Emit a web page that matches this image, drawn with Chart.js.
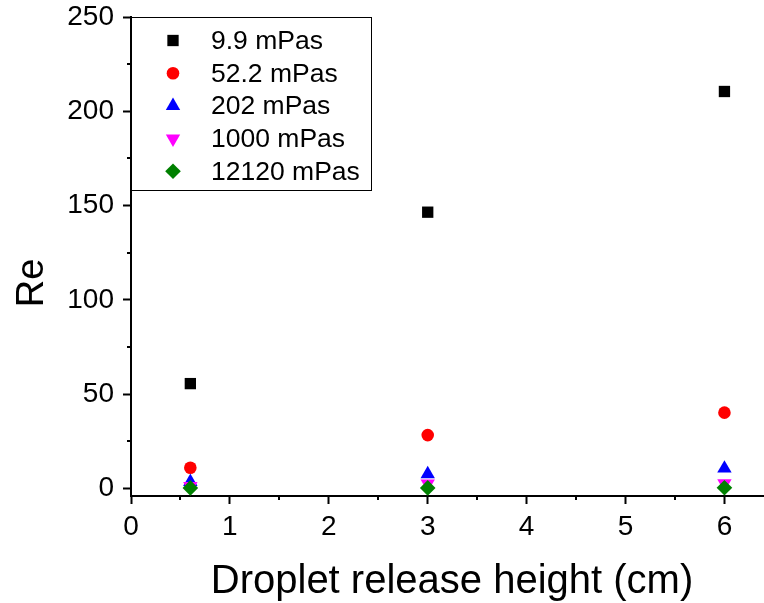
<!DOCTYPE html>
<html>
<script src="https://cdn.jsdelivr.net/npm/chart.js"></script>
<style type="text/css">
  body { margin: 0; background: #fff; }
</style>
<body>
  <canvas id="myChart" width="764" height="603"></canvas>

  <script>
    // release heights (cm)
    const heights = [0.6, 3, 6];
    const labels = ['9.9 mPas', '52.2 mPas', '202 mPas', '1000 mPas', '12120 mPas'];
    const re99 = [55.6, 146.5, 210.5];
    const re522 = [11.0, 28.3, 40.2];
    const re202 = [3.5, 7.6, 10.6];
    const re1000 = [1.2, 2.6, 2.7];
    const re12120 = [0.3, 0.3, 0.35];

    const xTicks = [0, 1, 2, 3, 4, 5, 6];
    const xMinor = [0.5, 1.5, 2.5, 3.5, 4.5, 5.5];
    const yTicks = [0, 50, 100, 150, 200, 250];
    const yMinor = [25, 75, 125, 175, 225];

    const FONT = '"Liberation Sans", Arial, sans-serif';

    const toPts = (ys) => ys.map((y, i) => ({x: heights[i], y: y}));

    const styles = [
      {color: '#000000', pointStyle: 'rect', radius: 8, rotation: 0},
      {color: '#ff0000', pointStyle: 'circle', radius: 6.3, rotation: 0},
      {color: '#0000ff', pointStyle: 'triangle', radius: 8.3, rotation: 0},
      {color: '#ff00ff', pointStyle: 'triangle', radius: 8.3, rotation: 180},
      {color: '#008000', pointStyle: 'rectRot', radius: 7.8, rotation: 0}
    ];
    const series = [re99, re522, re202, re1000, re12120];

    const datasets = series.map((s, i) => ({
      label: labels[i],
      data: toPts(s),
      showLine: false,
      backgroundColor: styles[i].color,
      borderColor: styles[i].color,
      borderWidth: 0,
      pointStyle: styles[i].pointStyle,
      pointRadius: styles[i].radius,
      pointHoverRadius: styles[i].radius,
      pointRotation: styles[i].rotation,
      order: 5 - i
    }));

    const noPad = (s) => { s.paddingTop = 0; s.paddingBottom = 0; s.paddingLeft = 0; s.paddingRight = 0; };

    // minor ticks, boxed legend and axis titles
    const extras = {
      id: 'extras',
      afterDraw(chart) {
        const c = chart.ctx;
        const xs = chart.scales.x, ys = chart.scales.y;
        const area = chart.chartArea;
        c.save();
        c.strokeStyle = '#000';
        c.lineWidth = 2;
        c.beginPath();
        yMinor.forEach(v => {
          const p = Math.round(ys.getPixelForValue(v));
          c.moveTo(area.left, p);
          c.lineTo(area.left - 4, p);
        });
        xMinor.forEach(v => {
          const p = Math.round(xs.getPixelForValue(v));
          c.moveTo(p, area.bottom);
          c.lineTo(p, area.bottom + 4);
        });
        c.stroke();

        // legend
        const bx = area.left, by = area.top, bw = 240, bh = 173;
        c.fillStyle = '#fff';
        c.fillRect(bx + 1, by, bw - 1, bh);
        c.lineWidth = 1;
        c.strokeRect(bx + 0.5, by + 0.5, bw, bh);
        c.font = '26.5px ' + FONT;
        c.textBaseline = 'middle';
        c.textAlign = 'left';
        chart.data.datasets.forEach((ds, i) => {
          const y = by + 23.5 + i * 32.7;
          c.fillStyle = ds.backgroundColor;
          c.strokeStyle = ds.borderColor;
          Chart.helpers.drawPoint(c, {
            pointStyle: ds.pointStyle,
            radius: ds.pointRadius,
            rotation: ds.pointRotation,
            borderWidth: 0
          }, bx + 42, y);
          c.fillStyle = '#000';
          c.fillText(ds.label, bx + 80, y + 1);
        });

        // axis titles
        c.fillStyle = '#000';
        c.font = '40px ' + FONT;
        c.textAlign = 'center';
        c.textBaseline = 'alphabetic';
        c.fillText('Droplet release height (cm)', 452, 593);
        c.save();
        c.translate(43, 283);
        c.rotate(-Math.PI / 2);
        c.font = '38px ' + FONT;
        c.fillText('Re', 0, 0);
        c.restore();
        c.restore();
      }
    };

    var ctx = document.getElementById('myChart').getContext('2d');
    var myChart = new Chart(ctx, {
      type: 'scatter',
      data: { datasets: datasets },
      plugins: [extras],
      options: {
        responsive: false,
        animation: false,
        layout: { autoPadding: false, padding: { top: 17, right: 0, left: 0, bottom: 0 } },
        plugins: {
          legend: { display: false },
          tooltip: { enabled: false }
        },
        scales: {
          x: {
            type: 'linear',
            min: 0,
            max: 6.4,
            afterBuildTicks: (s) => { s.ticks = xTicks.map(v => ({value: v})); },
            afterFit: (s) => { s.height = 107; noPad(s); },
            grid: { drawOnChartArea: false, tickLength: 8, tickWidth: 2, tickColor: '#000' },
            border: { display: true, color: '#000', width: 2 },
            ticks: {
              autoSkip: false,
              maxRotation: 0,
              padding: 6,
              color: '#000',
              font: { family: FONT, size: 28 }
            }
          },
          y: {
            type: 'linear',
            min: -4,
            max: 250,
            afterBuildTicks: (s) => { s.ticks = yTicks.map(v => ({value: v})); },
            afterFit: (s) => { s.width = 131; noPad(s); },
            grid: { drawOnChartArea: false, tickLength: 8, tickWidth: 2, tickColor: '#000' },
            border: { display: true, color: '#000', width: 2 },
            ticks: {
              autoSkip: false,
              padding: 9,
              color: '#000',
              font: { family: FONT, size: 28 }
            }
          }
        }
      }
    });
  </script>

</body>
</html>
